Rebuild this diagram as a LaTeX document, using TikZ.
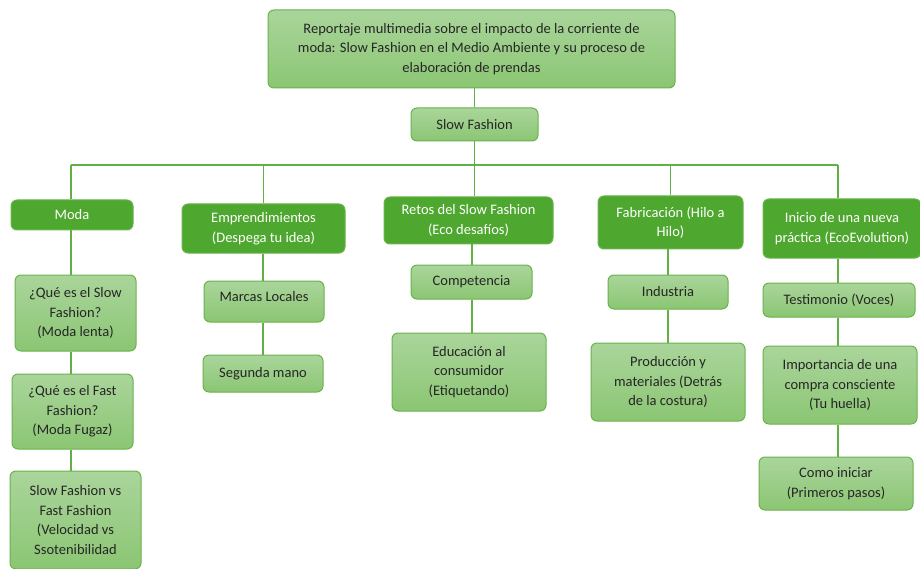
\documentclass[tikz,border=0pt]{standalone}
\usepackage{fontspec}
\setmainfont{Carlito}
\definecolor{darkgreen}{HTML}{4EA72E}
\definecolor{lighttop}{HTML}{AAD59B}
\definecolor{lightbot}{HTML}{8BC673}
\definecolor{edgegreen}{HTML}{6AB24C}
\definecolor{textgray}{HTML}{262626}
\tikzset{
	box/.style={rounded corners=6pt, inner sep=0pt, align=center, font=\fontsize{14.5}{19.5}\selectfont},
	topbox/.style={box, draw=edgegreen, line width=1pt, top color=lighttop, bottom color=lightbot, text=textgray},
	mainbox/.style={box, draw=darkgreen!85!white, line width=1pt, fill=darkgreen, text=white},
	subbox/.style={box, draw=edgegreen, line width=1pt, top color=lighttop, bottom color=lightbot, text=textgray},
	link/.style={draw=darkgreen!90!white, line width=1.5pt}
}
\begin{document}
\begin{tikzpicture}[x=1pt, y=-1pt]
\useasboundingbox (0,0) rectangle (920,569);
% top
\node [topbox, minimum width=407, minimum height=78] (titulo) at (471.5,49) {Reportaje multimedia sobre el impacto de la corriente de\\moda: Slow Fashion en el Medio Ambiente y su proceso de\\elaboración de prendas};
\node [topbox, minimum width=127, minimum height=33] (slow) at (474.5,124.5) {Slow Fashion};
% level 1
\node [mainbox, minimum width=122, minimum height=30] (moda) at (72,215) {Moda};
\node [mainbox, minimum width=163, minimum height=49] (empr) at (263.5,228.5) {Emprendimientos\\(Despega tu idea)};
\node [mainbox, minimum width=169, minimum height=47] (retos) at (468.5,220.5) {Retos del Slow Fashion\\(Eco desafíos)};
\node [mainbox, minimum width=145, minimum height=53] (fabr) at (670.5,222.5) {Fabricación (Hilo a\\Hilo)};
\node [mainbox, minimum width=158, minimum height=59] (inicio) at (842,228.5) {Inicio de una nueva\\práctica (EcoEvolution)};
% moda
\node [subbox, minimum width=121, minimum height=76] (qslow) at (75.5,313) {¿Qué es el Slow\\Fashion?\\(Moda lenta)};
\node [subbox, minimum width=121, minimum height=75] (qfast) at (72.5,411.5) {¿Qué es el Fast\\Fashion?\\(Moda Fugaz)};
\node [subbox, minimum width=131, minimum height=98] (versus) at (75.5,520) {Slow Fashion vs\\Fast Fashion\\(Velocidad vs\\Ssotenibilidad};
% emprendimientos
\node [subbox, minimum width=120, minimum height=41, text depth=10pt] (marcas) at (264,301.5) {Marcas Locales};
\node [subbox, minimum width=120, minimum height=37] (segunda) at (263,373.5) {Segunda mano};
% retos
\node [subbox, minimum width=121, minimum height=34] (compe) at (471.5,282) {Competencia};
\node [subbox, minimum width=154, minimum height=78] (educ) at (469,372) {Educación al\\consumidor\\(Etiquetando)};
% fabricacion
\node [subbox, minimum width=120, minimum height=34] (indus) at (668,292) {Industria};
\node [subbox, minimum width=154, minimum height=78] (prod) at (668,382) {Producción y\\materiales (Detrás\\de la costura)};
% inicio
\node [subbox, minimum width=152, minimum height=34] (testi) at (839,300) {Testimonio (Voces)};
\node [subbox, minimum width=154, minimum height=78] (impor) at (840,385) {Importancia de una\\compra consciente\\(Tu huella)};
\node [subbox, minimum width=154, minimum height=53] (como) at (836,483.5) {Como iniciar\\(Primeros pasos)};
% connectors
\coordinate (busL) at (71,165);
\coordinate (busR) at (838,165);
\draw [link] (titulo.south -| slow) -- (slow.north);
\draw [link] (slow.south) -- (slow |- retos.north);
\draw [link] (busL) -- (busR);
\draw [link] (busL) -- (busL |- moda.north);
\draw [link] (busR) -- (busR |- inicio.north);
\foreach \n in {empr,fabr}{
	\draw [link] (\n.north |- busL) -- (\n.north);
}
\foreach \a/\b/\c in {moda/qslow/71, qslow/qfast/71, qfast/versus/71, empr/marcas/263, marcas/segunda/263, retos/compe/472, compe/educ/472, fabr/indus/668, indus/prod/668, inicio/testi/838, testi/impor/838, impor/como/838}{
	\draw [link] (\c,0 |- \a.south) -- (\c,0 |- \b.north);
}
\end{tikzpicture}
\end{document}
